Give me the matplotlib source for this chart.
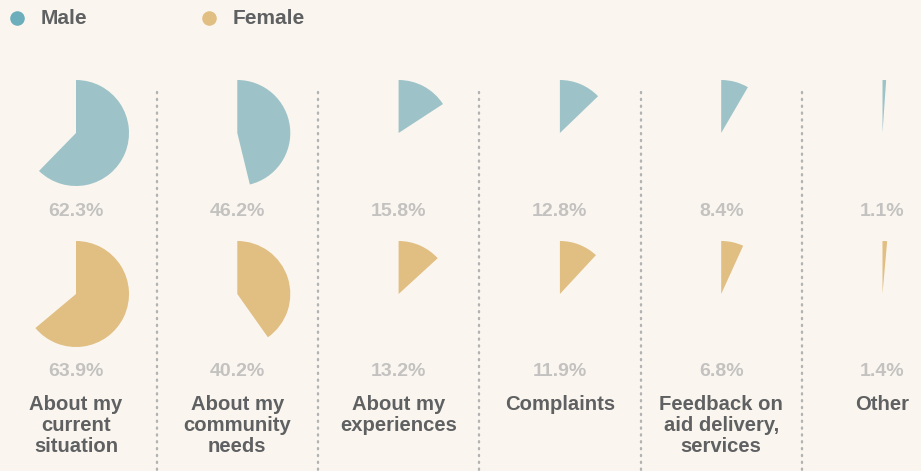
import numpy as np
from matplotlib import pyplot as plt

# data
categories = ['About my\ncurrent\nsituation', 'About my\ncommunity\nneeds', 'About my\nexperiences',
              'Complaints', 'Feedback on\naid delivery,\nservices', 'Other']
male = [62.3, 46.2, 15.8, 12.8, 8.4, 1.1]
female = [63.9, 40.2, 13.2, 11.9, 6.8, 1.4]

# style
bg = '#faf6ef'
male_col = '#9dc3c9'
male_dot = '#6caebb'
fem_col = '#e1be82'
txt_col = '#5f6062'
pct_col = '#c3c2c0'
plt.rcParams['font.family'] = ['Liberation Sans', 'DejaVu Sans']

W, H = 921, 471
fig = plt.figure(figsize=(W/100, H/100), dpi=100, facecolor=bg)
ax = fig.add_axes([0, 0, 1, 1])
ax.set_facecolor(bg)

x0 = 76; step = 161.3; rad = 53
y_male = H - 133; y_fem = H - 294

for i, cat in enumerate(categories):
	cx = x0 + i*step
	for v, cy, col in ((male[i], y_male, male_col), (female[i], y_fem, fem_col)):
		ax.pie([v, 100 - v], colors=[col, 'none'], startangle=90, counterclock=False,
			center=(cx, cy), radius=rad, frame=True, wedgeprops=dict(linewidth=0))
	ax.text(cx, H - 212, '%.1f%%' % male[i], ha='center', va='center', fontsize=14,
		fontweight='bold', color=pct_col)
	ax.text(cx, H - 372, '%.1f%%' % female[i], ha='center', va='center', fontsize=14,
		fontweight='bold', color=pct_col)
	ax.text(cx, H - 395, cat, ha='center', va='top', fontsize=14.6, fontweight='bold',
		color=txt_col, linespacing=1.12)
	# dotted separators
	if i < len(categories) - 1:
		sx = cx + step/2
		ax.plot([sx, sx], [H - 92, 0], color='#b3b3b3', linewidth=1.7,
			linestyle=(0, (0.5, 2.4)), dash_capstyle='round')

# legend
ax.scatter([16.5], [H - 18], s=110, color=male_dot, linewidths=0)
ax.text(41, H - 18, 'Male', va='center', ha='left', fontsize=15, fontweight='bold', color=txt_col)
ax.scatter([209], [H - 18], s=110, color=fem_col, linewidths=0)
ax.text(233, H - 18, 'Female', va='center', ha='left', fontsize=15, fontweight='bold', color=txt_col)

ax.set_xlim(0, W)
ax.set_ylim(0, H)
ax.set_aspect('equal', adjustable='box')
ax.axis('off')

fig.savefig('out.png', dpi=100, facecolor=bg)
